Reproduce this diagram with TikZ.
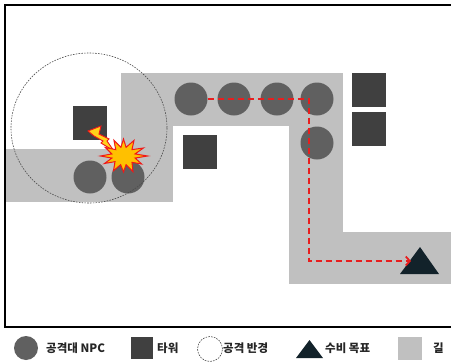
\documentclass[tikz,border=0pt]{standalone}
\usepackage{fontspec}
\newfontfamily\kfont{Noto Sans CJK KR}
\usetikzlibrary{arrows.meta}
\definecolor{roadgray}{HTML}{C0C0C0}
\definecolor{npcgray}{HTML}{606060}
\definecolor{towergray}{HTML}{404040}
\definecolor{goaldark}{HTML}{12222A}
\definecolor{boomfill}{HTML}{FFC000}
\definecolor{boltfill}{HTML}{FFD21A}
\definecolor{boomline}{HTML}{F01818}
\definecolor{routered}{HTML}{E81E1E}
\tikzset{
  npc/.style={circle,fill=npcgray,minimum size=33pt,inner sep=0pt},
  tower/.style={rectangle,fill=towergray,minimum size=34pt,inner sep=0pt},
  road/.style={fill=roadgray},
  goalmark/.style={fill=goaldark},
  rangeline/.style={draw=black!70,line width=0.6pt,dash pattern=on 1.6pt off 1.2pt},
  route/.style={draw=routered,line width=2.2pt,dash pattern=on 6.5pt off 3.5pt,
    -{Straight Barb[length=4pt,width=9pt,line width=1.8pt]}},
  boom/.style={fill=boomfill,draw=boomline,line width=1pt,line join=miter},
  bolt/.style={fill=boltfill,draw=boomline,line width=0.9pt,line join=miter},
  legendtext/.style={anchor=west,inner sep=0pt,text=black!85,
    font=\kfont\bfseries\fontsize{11.5}{12}\selectfont}
}
\begin{document}
\begin{tikzpicture}[x=1pt,y=-1pt]
\useasboundingbox (0,0) rectangle (451,362);
\fill[white] (0,0) rectangle (451,362);

% road network
\fill[road] (5,149) rectangle (173,202);
\fill[road] (121,73) rectangle (173,202);
\fill[road] (121,73) rectangle (343,126);
\fill[road] (289,73) rectangle (343,284);
\fill[road] (289,232) rectangle (451,284);

% map frame (its right side lies past the edge)
\draw[line width=1.5pt] (453,5) -- (5,5) -- (5,327) -- (453,327);

% towers
\node[tower] (t1) at (90,123) {};
\node[tower] (t2) at (200,151.5) {};
\node[tower] (t3) at (369,89.5) {};
\node[tower] (t4) at (369,128.5) {};

% raid NPCs
\node[npc] (n1) at (191,99) {};
\node[npc] (n2) at (234,99) {};
\node[npc] (n3) at (277,99) {};
\node[npc] (n4) at (317,99) {};
\node[npc] (n5) at (317,143) {};
\node[npc] (n6) at (90,177) {};
\node[npc] (n7) at (128,177) {};

% defence target
\coordinate (goal) at (420,261);
\fill[goalmark] (400,274) -- (420,247) -- (439,274) -- cycle;

% march route of the raid
\coordinate (turn) at (309,99);
\coordinate (down) at (309,261);
\coordinate (goalin) at (411,261);
\draw[route] (n1.east) -- (turn) -- (down) -- (goalin);

% tower shot hitting an NPC
\draw[bolt] (88,131) -- (101,126) -- (99,134) -- (109,139) -- (107,141)
  -- (114,151) -- (101,143) -- (103,141) -- (94,136) -- cycle;
\begin{scope}[shift={(123.5,156)}]
\draw[boom] (0:24 and 15) -- (15:12 and 8) -- (30:21 and 16) -- (45:12 and 9)
  -- (60:19 and 18) -- (75:10 and 9) -- (90:20 and 16) -- (105:11 and 9)
  -- (120:20 and 17) -- (135:12 and 8) -- (150:22 and 15) -- (165:12 and 8)
  -- (180:23 and 16) -- (195:12 and 8) -- (210:21 and 17) -- (225:11 and 9)
  -- (240:19 and 18) -- (255:10 and 9) -- (270:20 and 17) -- (285:10 and 9)
  -- (300:21 and 18) -- (315:12 and 9) -- (330:23 and 16) -- (345:12 and 8)
  -- cycle;
\end{scope}

% attack radius
\draw[rangeline] (89,128) ellipse [x radius=78, y radius=75];

% legend
\node[npc,minimum size=24pt] (lnpc) at (26,348) {};
\node[legendtext] (lnpctext) at (46,348) {공격대 NPC};
\node[tower,minimum size=22pt] (ltower) at (142,348) {};
\node[legendtext] (ltowertext) at (157,348) {타워};
\node[circle,minimum size=25pt,inner sep=0pt,rangeline] (lrange) at (210,349) {};
\node[legendtext] (lrangetext) at (223,348) {공격 반경};
\fill[goalmark] (296,358) -- (309.5,340) -- (323,358) -- cycle;
\node[legendtext] (lgoaltext) at (325,348) {수비 목표};
\fill[road] (398,337) rectangle (422,360);
\node[legendtext] (lroadtext) at (433,348) {길};
\end{tikzpicture}
\end{document}
